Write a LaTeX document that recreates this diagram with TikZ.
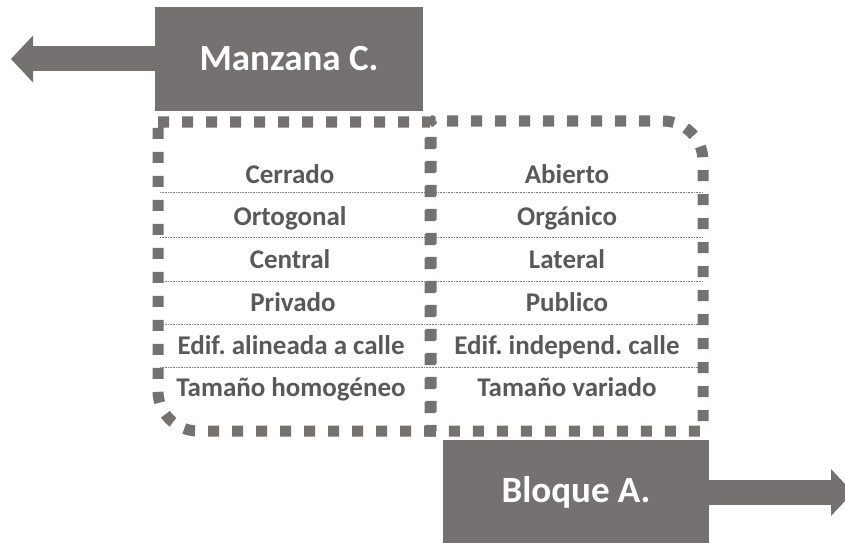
\documentclass[tikz,border=0pt]{standalone}
\usepackage{fontspec}
\setmainfont{Carlito}
\usetikzlibrary{arrows.meta}
\definecolor{boxgray}{HTML}{767171}
\definecolor{txtgray}{HTML}{595959}
\definecolor{sepgray}{HTML}{7F7F7F}
\frenchspacing
\begin{document}
\begin{tikzpicture}[x=1pt,y=1pt,
  bigbox/.style={fill=boxgray, draw=none, text=white, font=\fontsize{37}{41}\selectfont\bfseries, inner sep=0pt},
  cell/.style={text=txtgray, font=\fontsize{27}{31}\selectfont\bfseries, anchor=base, inner sep=0pt},
  sqdash/.style={draw=boxgray, line width=11pt, dash pattern=on 11pt off 13pt, line cap=butt},
  sepline/.style={draw=sepgray, line width=0.8pt, dash pattern=on 0.8pt off 0.8pt},
  fatarrow/.style={draw=boxgray, line width=25pt, -{Triangle[length=22pt,width=47pt,line width=0pt,fill=boxgray]}}
]
\useasboundingbox (0,0) rectangle (845,542);

% separators
\foreach \y in {350,305,261,218,175} {
  \draw[sepline] (160,\y) -- (430,\y);
  \draw[sepline] (430,\y) -- (703,\y);
}

% dashed frames
\draw[sqdash] (158,420) -- (430,420) -- (430,111) -- (198,111)
   arc[start angle=270, end angle=180, radius=40] -- cycle;
\draw[sqdash, dash phase=8pt] (431,421) -- (663,421)
   arc[start angle=90, end angle=0, radius=40] -- (703,111) -- (431,111) -- cycle;

% title boxes
\node[bigbox, minimum width=268pt, minimum height=104pt] (manz) at (289,483) {Manzana C.};
\node[bigbox, minimum width=266pt, minimum height=105pt] (bloq) at (576,49.5) {Bloque A.};
\coordinate (ltip) at (11,483);
\coordinate (rtip) at (853,49.5);
\draw[fatarrow] (manz.west) -- (ltip);
\draw[fatarrow] (bloq.east) -- (rtip);

% cells
\node[cell] (l1) at (290,359) {Cerrado};
\node[cell] (l2) at (290,317) {Ortogonal};
\node[cell] (l3) at (290,274) {Central};
\node[cell] (l4) at (293,231) {Privado};
\node[cell] (l5) at (291,188) {Edif. alineada a calle};
\node[cell] (l6) at (291,146) {Tamaño homogéneo};
\node[cell] (r1) at (567,359) {Abierto};
\node[cell] (r2) at (567,317) {Orgánico};
\node[cell] (r3) at (567,274) {Lateral};
\node[cell] (r4) at (567,231) {Publico};
\node[cell] (r5) at (567,188) {Edif. independ. calle};
\node[cell] (r6) at (567,146) {Tamaño variado};
\end{tikzpicture}
\end{document}
